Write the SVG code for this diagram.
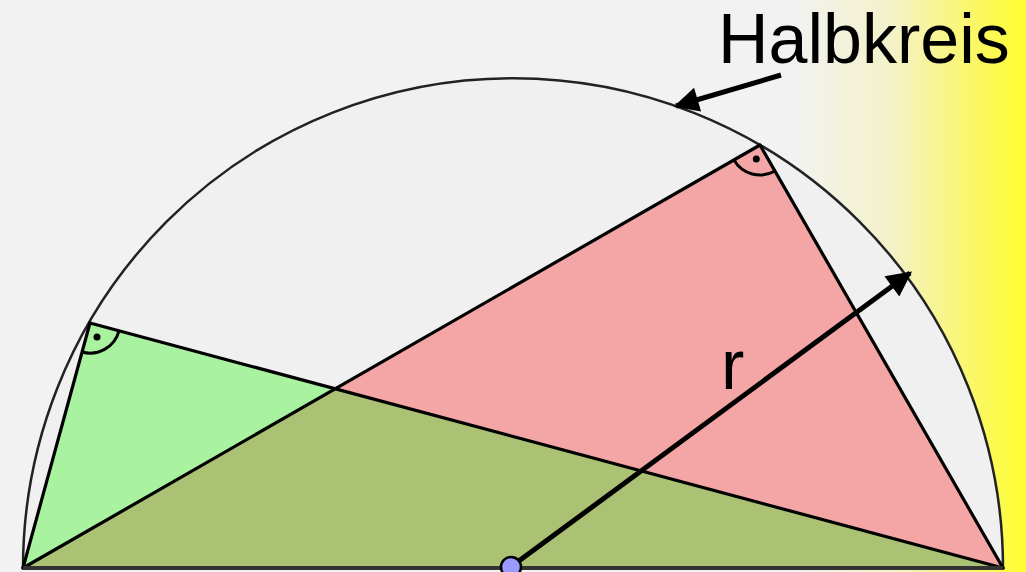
<svg xmlns="http://www.w3.org/2000/svg" width="1026" height="572" viewBox="0 0 1026 572">
<defs>
<linearGradient id="bg" x1="0" y1="0" x2="1026" y2="0" gradientUnits="userSpaceOnUse">
<stop offset="0" stop-color="#f2f2f2"/>
<stop offset="0.77" stop-color="#f2f2f2"/>
<stop offset="0.87" stop-color="#f4f2c8"/>
<stop offset="0.96" stop-color="#fbf85a"/>
<stop offset="1" stop-color="#ffff33"/>
</linearGradient>
<marker id="ah" viewBox="0 0 10 10" refX="9" refY="5" markerWidth="5.5" markerHeight="5" markerUnits="strokeWidth" orient="auto">
<path d="M0,0 L10,5 L0,10 Z" fill="#000"/>
</marker>
<style>
.edge{stroke:#000;stroke-width:3.2;fill:none;stroke-linejoin:round}
.arr{stroke:#000;stroke-width:5;fill:none;marker-end:url(#ah)}
.ra{stroke:#000;stroke-width:3;fill:none}
.lbl{font-family:"Liberation Sans",Arial,sans-serif;font-size:70px;fill:#000}
</style>
</defs>
<rect x="0" y="0" width="1026" height="572" fill="url(#bg)"/>
<g id="halbkreis">
<path d="M23,568 A490,490 0 0 1 1003,568 Z" fill="#f0f0f0" stroke="#222" stroke-width="2.5"/>
</g>
<g id="dreieck-gruen">
<polygon points="23,568 90,323 1003,568" fill="#a8f2a0"/>
</g>
<g id="dreieck-rot">
<polygon points="23,568 760,145 1003,568" fill="#f4a6a6"/>
</g>
<g id="ueberlappung">
<polygon points="23,568 335.2,388.8 1003,568" fill="#abc173"/>
</g>
<g id="kanten">
<polygon class="edge" points="23,568 90,323 1003,568"/>
<polygon class="edge" points="23,568 760,145 1003,568"/>
<line x1="23" y1="568" x2="1003" y2="568" stroke="#333" stroke-width="4"/>
</g>
<g id="rechter-winkel-gruen">
<path class="ra" d="M82.1,352 A30,30 0 0 0 119,330.8"/>
<circle cx="97" cy="337" r="3.5" fill="#000"/>
</g>
<g id="rechter-winkel-rot">
<path class="ra" d="M734,160 A30,30 0 0 0 775,171"/>
<circle cx="756.3" cy="159" r="3.5" fill="#000"/>
</g>
<g id="connectors">
<line class="arr" x1="512" y1="566" x2="910" y2="273"/>
<line class="arr" x1="781" y1="75" x2="676" y2="106"/>
</g>
<g id="mittelpunkt">
<circle cx="511" cy="567" r="10" fill="#9999ff" stroke="#000" stroke-width="2.5"/>
</g>
<g id="labels">
<text class="lbl" x="718" y="63">Halbkreis</text>
<text class="lbl" x="721" y="389">r</text>
</g>
</svg>
